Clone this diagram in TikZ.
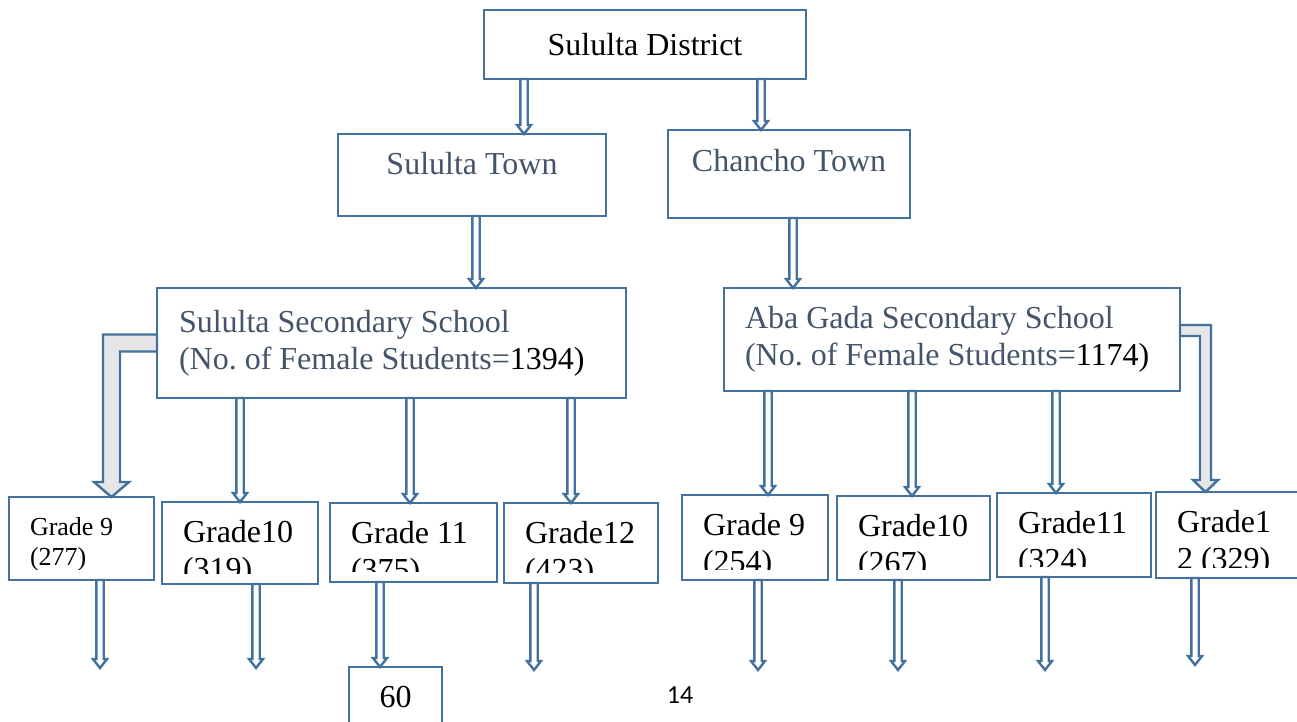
\documentclass[tikz,border=0pt]{standalone}
\usepackage{fontspec}
\setmainfont{Liberation Serif}
\newfontfamily\pagefont{Carlito}
\usetikzlibrary{positioning,calc}
\definecolor{boxblue}{RGB}{65,113,156}
\definecolor{slate}{RGB}{68,84,106}
\definecolor{arrgray}{RGB}{230,230,230}
\frenchspacing

\begin{document}
\begin{tikzpicture}[x=1pt,y=-1pt,
  box/.style={draw=boxblue,line width=2.6pt,fill=white,inner sep=0pt,outer sep=0pt},
  big/.style={font=\fontsize{32}{37}\selectfont},
  gbox/.style n args={3}{box,path picture={
      \clip ([yshift=11pt]path picture bounding box.south west) rectangle (path picture bounding box.north east);
      \node[font=#1,anchor=base west,align=left,inner sep=0pt,minimum width=0pt,minimum height=0pt]
        at ([xshift=21pt,yshift=-#2]path picture bounding box.north west) {#3};}},
  blk/.style={draw=boxblue,line width=2.4pt,fill=white,
    to path={let \p1=(\tikztostart),\p2=(\tikztotarget) in
      (\x1-3.7pt,\y1) -- (\x1-3.7pt,\y2+9pt) -- (\x1-7pt,\y2+9pt) -- (\x1,\y2)
      -- (\x1+7pt,\y2+9pt) -- (\x1+3.7pt,\y2+9pt) -- (\x1+3.7pt,\y1) -- cycle}},
  fat/.style={draw=boxblue,line width=2.4pt,fill=arrgray}]
\useasboundingbox (0,0) rectangle (1297,721);

% district and towns
\node (dist) [box,big,minimum width=322pt,minimum height=69pt] at (645,44.5) {Sululta District};
\node (sT) [box,big,text=slate,text depth=24pt,minimum width=268pt,minimum height=82pt] at (472,175) {Sululta Town};
\node (cT) [box,big,text=slate,text depth=28pt,minimum width=242pt,minimum height=88pt] at (789,174) {Chancho Town};

% schools
\node (sS) [box,big,text=slate,align=flush left,text width=425pt,minimum width=469pt,minimum height=110pt] at (391.5,343)
  {Sululta Secondary School\\(No. of Female Students=\textcolor{black}{1394)}};
\node (aG) [box,big,text=slate,align=flush left,text width=414pt,minimum width=456pt,minimum height=103pt] at (952,339.5)
  {Aba Gada Secondary School\\(No. of Female Students=\textcolor{black}{1174)}};

% grades
\node (g9) [gbox={\fontsize{26}{30}\selectfont}{68pt}{Grade 9\\(277)},minimum width=145pt,minimum height=83pt] at (81.5,538.5) {};
\node (g10) [gbox={\fontsize{32}{37}\selectfont}{77pt}{Grade10\\(319)},minimum width=156pt,minimum height=82pt,right=8pt of g9,yshift=-4.5pt] {};
\node (g11) [gbox={\fontsize{32}{37}\selectfont}{77pt}{Grade 11\\(375)},minimum width=167pt,minimum height=79pt,right=12pt of g10,yshift=0.5pt] {};
\node (g12) [gbox={\fontsize{32}{37}\selectfont}{77pt}{Grade12\\(423)},minimum width=154pt,minimum height=80pt,right=7pt of g11,yshift=-0.5pt] {};
\node (h9) [gbox={\fontsize{32}{37}\selectfont}{77pt}{Grade 9\\(254)},minimum width=146pt,minimum height=85pt] at (755,537.5) {};
\node (h10) [gbox={\fontsize{32}{37}\selectfont}{77pt}{Grade10\\(267)},minimum width=153pt,minimum height=84pt,right=9pt of h9,yshift=-0.5pt] {};
\node (h11) [gbox={\fontsize{32}{37}\selectfont}{77pt}{Grade11\\(324)},minimum width=154pt,minimum height=84pt,right=7pt of h10,yshift=3pt] {};
\node (h12) [gbox={\fontsize{32}{37}\selectfont}{77pt}{Grade1\\2 (329)},minimum width=150pt,minimum height=86pt,right=5pt of h11] {};

\node (sixty) [box,big,minimum width=93pt,minimum height=60pt] at (395.5,697) {60};
\node (pg) [font=\pagefont\fontsize{26}{30}\selectfont] at (680,695) {14};

\coordinate (e1) at (100,668);
\coordinate (e2) at (256,668);
\coordinate (e4) at (534,670);
\coordinate (e5) at (758,670);
\coordinate (e6) at (898,670);
\coordinate (e7) at (1045,670);
\coordinate (e8) at (1195,665);

% thin arrows
\draw[blk] ([xshift=-121pt]dist.south) to (sT.north);
\draw[blk] ([xshift=116pt]dist.south) to (cT.north);
\draw[blk] ([xshift=4pt]sT.south) to (sS.north);
\draw[blk] ([xshift=4pt]cT.south) to (aG.north);
\draw[blk] ([xshift=-151.5pt]sS.south) to (g10.north);
\draw[blk] ([xshift=18.5pt]sS.south) to (g11.north);
\draw[blk] ([xshift=179.5pt]sS.south) to (g12.north);
\draw[blk] ([xshift=-184pt]aG.south) to (h9.north);
\draw[blk] ([xshift=-40pt]aG.south) to (h10.north);
\draw[blk] ([xshift=104pt]aG.south) to (h11.north);
\draw[blk] (g9.south -| e1) to (e1);
\draw[blk] (g10.south -| e2) to (e2);
\draw[blk] ([xshift=-33.5pt]g11.south) to (sixty.north);
\draw[blk] (g12.south -| e4) to (e4);
\draw[blk] (h9.south -| e5) to (e5);
\draw[blk] (h10.south -| e6) to (e6);
\draw[blk] (h11.south -| e7) to (e7);
\draw[blk] (h12.south -| e8) to (e8);

% bent arrows
\draw[fat] let \p1=(sS.west),\p2=(g9.north) in
  (\x1,\y1+8.5pt) -- (\x2+21.5pt,\y1+8.5pt) -- (\x2+21.5pt,\y2+15pt) -- (\x2+12.5pt,\y2+15pt)
  -- (\x2+30pt,\y2) -- (\x2+47.5pt,\y2+15pt) -- (\x2+38.5pt,\y2+15pt) -- (\x2+38.5pt,\y1-8.5pt)
  -- (\x1,\y1-8.5pt) -- cycle;
\draw[fat] let \p1=(aG.east),\p2=(h12.north) in
  (\x1,\y1+14.5pt) -- (\x2-20pt,\y1+14.5pt) -- (\x2-20pt,\y2+12pt) -- (\x2-13pt,\y2+12pt)
  -- (\x2-25.5pt,\y2) -- (\x2-38pt,\y2+12pt) -- (\x2-31pt,\y2+12pt) -- (\x2-31pt,\y1+3.5pt)
  -- (\x1,\y1+3.5pt) -- cycle;
\end{tikzpicture}
\end{document}
